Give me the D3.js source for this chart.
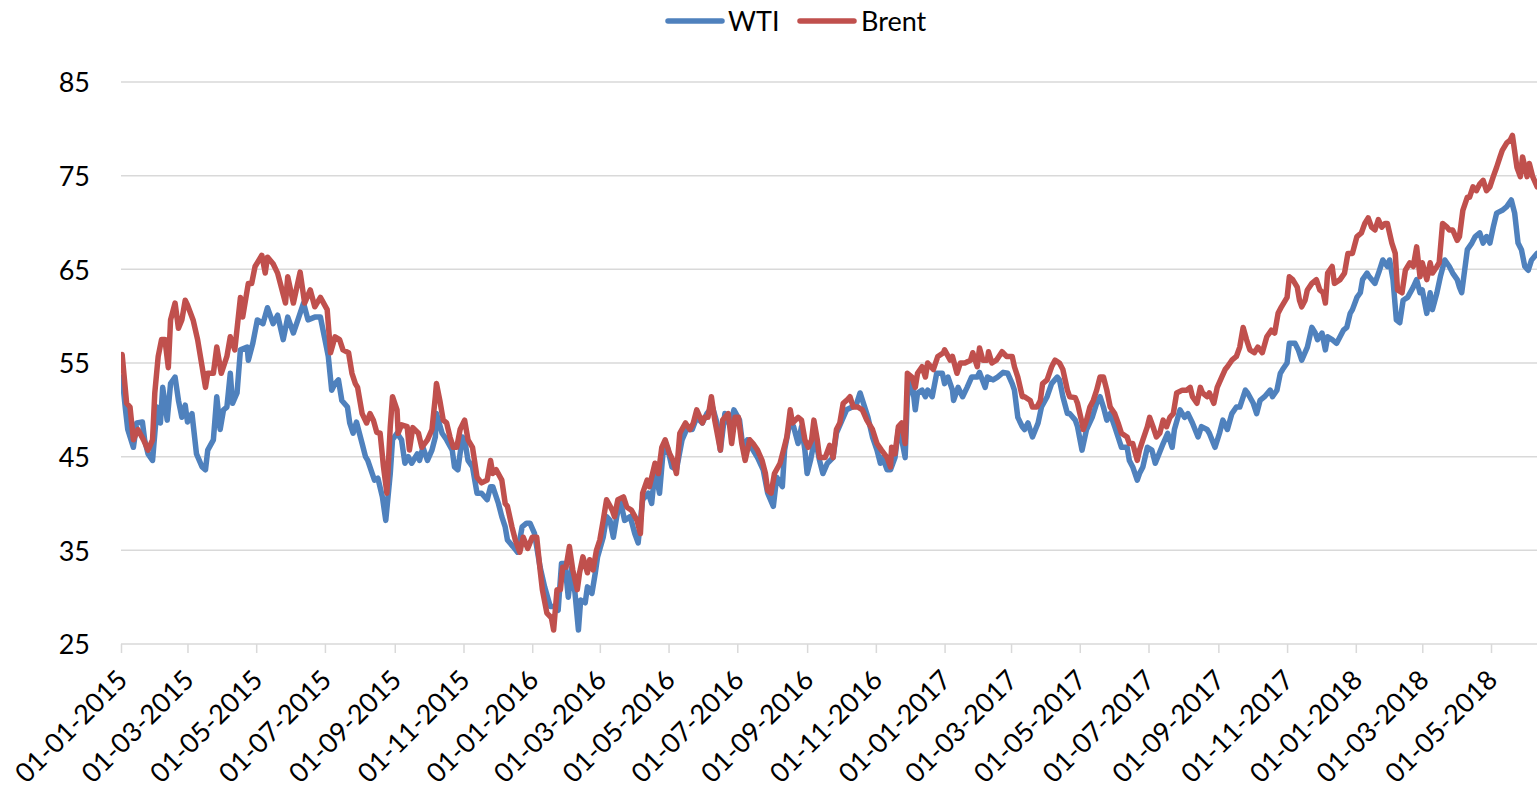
<!DOCTYPE html>
<html>
<head>
<meta charset="utf-8">
<script src="https://cdn.jsdelivr.net/npm/d3@7"></script>
<style>
    body { margin: 0; background: #fff; }
    svg text { font-family: Lato, "Open Sans", sans-serif; fill: #000; }
</style>
</head>
<body>
<svg id="chart" width="1537" height="792"></svg>
<script>
var seriesNames = ["WTI", "Brent"];

var yTicks = [25, 35, 45, 55, 65, 75, 85];

var axisStart = "2015-01-01",
    axisEnd = "2018-06-11";

var wti = [
    ["2015-01-02",53.5],["2015-01-05",50.0],["2015-01-07",47.9],["2015-01-12",46.0],["2015-01-15",48.6],["2015-01-20",48.7],["2015-01-22",46.8],["2015-01-25",45.3],["2015-01-29",44.6],
    ["2015-02-02",50.3],["2015-02-05",48.6],["2015-02-07",52.4],["2015-02-11",48.9],["2015-02-14",52.8],["2015-02-18",53.5],["2015-02-21",51.0],["2015-02-24",49.2],["2015-02-27",50.5],
    ["2015-03-01",48.7],["2015-03-05",49.6],["2015-03-09",45.3],["2015-03-14",43.9],["2015-03-17",43.6],["2015-03-19",45.7],["2015-03-24",46.8],["2015-03-27",51.4],["2015-03-30",47.9],
    ["2015-04-02",50.0],["2015-04-05",50.3],["2015-04-08",53.9],["2015-04-10",50.7],["2015-04-14",51.8],["2015-04-17",56.4],["2015-04-23",56.7],["2015-04-24",55.3],["2015-04-28",57.1],
    ["2015-05-02",59.6],["2015-05-07",59.2],["2015-05-11",60.9],["2015-05-16",59.2],["2015-05-20",60.1],["2015-05-25",57.5],["2015-05-29",59.9],
    ["2015-06-03",58.2],["2015-06-07",59.6],["2015-06-12",61.4],["2015-06-16",59.6],["2015-06-22",59.9],["2015-06-27",59.9],
    ["2015-07-01",57.5],["2015-07-04",55.7],["2015-07-07",52.1],["2015-07-10",52.8],["2015-07-13",53.2],["2015-07-16",51.0],["2015-07-21",50.3],["2015-07-23",48.6],["2015-07-26",47.5],["2015-07-29",48.7],
    ["2015-08-03",46.4],["2015-08-06",45.0],["2015-08-08",44.6],["2015-08-12",43.2],["2015-08-14",42.5],["2015-08-17",42.7],["2015-08-21",40.7],["2015-08-24",38.2],["2015-08-28",43.2],["2015-08-30",46.8],
    ["2015-09-03",47.5],["2015-09-07",46.8],["2015-09-10",44.3],["2015-09-13",45.0],["2015-09-16",44.3],["2015-09-21",45.3],["2015-09-23",44.6],["2015-09-26",46.0],["2015-09-30",44.6],
    ["2015-10-04",45.7],["2015-10-07",47.1],["2015-10-08",49.6],["2015-10-13",47.5],["2015-10-17",46.8],["2015-10-22",45.7],["2015-10-24",43.9],["2015-10-27",43.6],["2015-10-31",47.1],
    ["2015-11-02",46.8],["2015-11-05",44.6],["2015-11-09",43.9],["2015-11-13",41.1],["2015-11-17",41.1],["2015-11-22",40.4],["2015-11-25",41.8],["2015-11-27",41.8],
    ["2015-12-02",40.0],["2015-12-05",38.6],["2015-12-08",37.5],["2015-12-10",36.1],["2015-12-15",35.4],["2015-12-19",34.8],["2015-12-23",37.5],["2015-12-27",37.9],["2015-12-30",37.9],
    ["2016-01-03",36.8],["2016-01-08",33.2],["2016-01-12",31.1],["2016-01-17",29.0],["2016-01-21",29.0],["2016-01-24",28.6],["2016-01-27",33.6],["2016-01-30",33.6],
    ["2016-02-02",30.0],["2016-02-05",33.2],["2016-02-08",30.4],["2016-02-11",26.5],["2016-02-13",29.7],["2016-02-17",29.4],["2016-02-19",31.1],["2016-02-23",30.4],["2016-02-26",32.6],["2016-02-28",34.3],
    ["2016-03-04",36.4],["2016-03-07",38.6],["2016-03-10",38.2],["2016-03-13",36.4],["2016-03-16",38.6],["2016-03-19",40.4],["2016-03-23",38.2],["2016-03-28",38.6],
    ["2016-04-01",36.8],["2016-04-04",35.8],["2016-04-08",40.4],["2016-04-13",41.1],["2016-04-16",40.0],["2016-04-19",43.6],["2016-04-23",41.1],["2016-04-26",45.3],["2016-04-30",46.0],
    ["2016-05-04",43.9],["2016-05-08",43.6],["2016-05-13",46.8],["2016-05-17",47.9],["2016-05-22",47.9],["2016-05-26",49.2],["2016-05-31",48.6],
    ["2016-06-04",49.6],["2016-06-09",50.3],["2016-06-13",48.6],["2016-06-16",45.7],["2016-06-20",49.6],["2016-06-25",48.2],["2016-06-28",50.0],
    ["2016-07-03",48.9],["2016-07-06",46.0],["2016-07-10",46.8],["2016-07-15",45.7],["2016-07-19",44.9],["2016-07-24",43.6],["2016-07-28",41.1],
    ["2016-08-02",39.7],["2016-08-05",42.8],["2016-08-10",41.8],["2016-08-12",45.7],["2016-08-17",48.9],["2016-08-20",48.2],["2016-08-24",46.4],["2016-08-27",48.2],["2016-08-30",45.7],
    ["2016-09-01",43.2],["2016-09-04",44.6],["2016-09-08",47.1],["2016-09-12",44.6],["2016-09-15",43.2],["2016-09-19",44.3],["2016-09-24",44.9],["2016-09-27",47.5],
    ["2016-10-02",48.9],["2016-10-06",50.0],["2016-10-11",50.3],["2016-10-15",50.7],["2016-10-18",51.8],["2016-10-21",50.7],["2016-10-25",49.2],["2016-10-29",47.1],
    ["2016-11-02",45.7],["2016-11-05",44.3],["2016-11-07",44.9],["2016-11-11",43.6],["2016-11-14",43.6],["2016-11-18",44.9],["2016-11-21",47.9],["2016-11-24",46.8],["2016-11-27",44.9],["2016-11-29",51.4],
    ["2016-12-03",53.2],["2016-12-06",50.0],["2016-12-08",51.8],["2016-12-12",52.1],["2016-12-15",51.4],["2016-12-17",52.1],["2016-12-21",51.4],["2016-12-25",53.9],["2016-12-30",53.9],
    ["2017-01-01",52.8],["2017-01-04",53.5],["2017-01-08",52.1],["2017-01-09",51.0],["2017-01-13",52.4],["2017-01-17",51.4],["2017-01-21",52.4],["2017-01-25",53.5],["2017-01-30",53.5],
    ["2017-02-01",54.0],["2017-02-06",52.4],["2017-02-08",53.5],["2017-02-13",53.2],["2017-02-17",53.5],["2017-02-22",54.0],["2017-02-26",53.9],
    ["2017-03-02",52.8],["2017-03-04",52.1],["2017-03-07",49.2],["2017-03-11",48.2],["2017-03-13",47.9],["2017-03-16",48.6],["2017-03-20",47.1],["2017-03-25",48.6],["2017-03-28",50.3],
    ["2017-04-02",51.4],["2017-04-06",52.8],["2017-04-11",53.5],["2017-04-13",53.2],["2017-04-16",51.4],["2017-04-20",49.6],["2017-04-22",49.6],["2017-04-27",48.9],["2017-04-29",48.2],
    ["2017-05-03",45.7],["2017-05-07",47.9],["2017-05-12",49.2],["2017-05-16",50.7],["2017-05-19",51.4],["2017-05-22",50.3],["2017-05-25",48.9],["2017-05-28",49.6],
    ["2017-06-01",48.2],["2017-06-04",47.1],["2017-06-07",46.0],["2017-06-12",46.0],["2017-06-14",44.6],["2017-06-17",43.9],["2017-06-21",42.5],["2017-06-23",43.2],["2017-06-26",43.9],["2017-06-30",46.0],
    ["2017-07-04",45.7],["2017-07-07",44.3],["2017-07-11",45.5],["2017-07-14",46.4],["2017-07-18",47.5],["2017-07-22",46.0],["2017-07-24",47.9],["2017-07-29",50.0],
    ["2017-08-02",49.2],["2017-08-05",49.6],["2017-08-09",48.6],["2017-08-14",47.1],["2017-08-17",48.2],["2017-08-22",47.9],["2017-08-24",47.5],["2017-08-29",46.0],
    ["2017-09-02",47.5],["2017-09-05",48.9],["2017-09-09",47.9],["2017-09-13",49.6],["2017-09-17",50.3],["2017-09-20",50.3],["2017-09-25",52.1],["2017-09-27",51.8],
    ["2017-10-02",50.7],["2017-10-05",49.6],["2017-10-08",51.0],["2017-10-12",51.4],["2017-10-17",52.1],["2017-10-19",51.4],["2017-10-23",52.1],["2017-10-26",53.9],["2017-10-28",54.3],
    ["2017-11-01",55.0],["2017-11-03",57.1],["2017-11-08",57.1],["2017-11-11",56.4],["2017-11-14",55.3],["2017-11-19",56.7],["2017-11-23",58.8],["2017-11-26",58.2],["2017-11-28",57.5],
    ["2017-12-02",58.2],["2017-12-05",56.4],["2017-12-07",57.8],["2017-12-11",57.5],["2017-12-15",57.1],["2017-12-18",57.8],["2017-12-21",58.5],["2017-12-24",58.8],["2017-12-27",60.3],["2017-12-29",60.7],
    ["2018-01-02",62.0],["2018-01-05",62.5],["2018-01-07",63.9],["2018-01-11",64.6],["2018-01-13",64.2],["2018-01-18",63.5],["2018-01-22",64.9],["2018-01-25",66.0],["2018-01-29",65.3],["2018-01-31",66.0],
    ["2018-02-03",63.9],["2018-02-06",59.6],["2018-02-09",59.3],["2018-02-12",61.7],["2018-02-16",62.0],["2018-02-21",63.1],["2018-02-24",63.9],["2018-02-27",62.5],
    ["2018-03-01",62.8],["2018-03-05",60.3],["2018-03-08",62.5],["2018-03-10",60.7],["2018-03-14",62.5],["2018-03-17",64.2],["2018-03-21",66.0],["2018-03-25",65.3],["2018-03-28",64.6],
    ["2018-04-01",63.9],["2018-04-03",63.1],["2018-04-05",62.5],["2018-04-10",67.1],["2018-04-14",67.8],["2018-04-17",68.5],["2018-04-21",68.9],["2018-04-24",67.8],["2018-04-27",68.5],["2018-04-30",67.8],
    ["2018-05-03",69.5],["2018-05-06",71.0],["2018-05-11",71.3],["2018-05-15",71.7],["2018-05-19",72.4],["2018-05-22",71.0],["2018-05-25",67.8],["2018-05-28",67.1],["2018-05-31",65.3],
    ["2018-06-03",64.9],["2018-06-06",66.0],["2018-06-11",66.7]
];

var brent = [
    ["2015-01-02",55.9],["2015-01-06",50.7],["2015-01-09",50.3],["2015-01-12",46.8],["2015-01-16",47.9],["2015-01-21",46.8],["2015-01-25",45.7],["2015-01-29",46.8],["2015-01-31",51.8],
    ["2015-02-03",55.7],["2015-02-06",57.5],["2015-02-09",57.5],["2015-02-12",54.5],["2015-02-14",59.6],["2015-02-18",61.4],["2015-02-21",58.7],["2015-02-24",59.6],["2015-02-27",61.7],
    ["2015-03-01",61.2],["2015-03-06",59.6],["2015-03-10",57.5],["2015-03-14",54.6],["2015-03-17",52.4],["2015-03-19",53.9],["2015-03-24",53.9],["2015-03-27",56.7],["2015-03-31",53.9],
    ["2015-04-05",55.7],["2015-04-08",57.8],["2015-04-12",56.4],["2015-04-17",62.0],["2015-04-19",59.9],["2015-04-24",63.5],["2015-04-27",63.5],["2015-04-30",65.3],
    ["2015-05-06",66.5],["2015-05-09",64.6],["2015-05-11",66.3],["2015-05-16",65.6],["2015-05-20",64.6],["2015-05-27",61.4],["2015-05-29",64.2],
    ["2015-06-03",61.4],["2015-06-09",64.7],["2015-06-13",61.4],["2015-06-18",62.8],["2015-06-22",61.0],["2015-06-27",62.0],
    ["2015-07-03",60.7],["2015-07-06",56.1],["2015-07-10",57.8],["2015-07-14",57.5],["2015-07-17",56.4],["2015-07-22",56.1],["2015-07-25",53.9],["2015-07-28",52.8],["2015-07-30",52.4],
    ["2015-08-03",49.6],["2015-08-07",48.6],["2015-08-10",49.6],["2015-08-13",48.9],["2015-08-16",47.6],["2015-08-19",47.5],["2015-08-22",43.9],["2015-08-25",41.1],["2015-08-28",48.2],["2015-08-30",51.4],
    ["2015-09-03",50.0],["2015-09-04",47.5],["2015-09-07",48.4],["2015-09-12",48.2],["2015-09-14",45.7],["2015-09-17",48.1],["2015-09-22",47.5],["2015-09-25",46.0],["2015-09-30",46.8],
    ["2015-10-04",47.9],["2015-10-07",51.4],["2015-10-08",52.8],["2015-10-11",51.0],["2015-10-14",48.9],["2015-10-17",48.6],["2015-10-20",47.1],["2015-10-23",46.0],["2015-10-26",46.0],["2015-10-29",47.9],
    ["2015-11-02",48.9],["2015-11-05",46.8],["2015-11-09",46.0],["2015-11-13",42.8],["2015-11-17",42.2],["2015-11-22",42.5],["2015-11-25",44.6],["2015-11-27",43.2],["2015-11-30",43.6],
    ["2015-12-05",42.5],["2015-12-08",40.0],["2015-12-10",39.7],["2015-12-14",37.5],["2015-12-17",36.1],["2015-12-21",34.8],["2015-12-24",36.4],["2015-12-28",35.2],
    ["2016-01-01",36.4],["2016-01-05",36.4],["2016-01-08",32.9],["2016-01-10",30.8],["2016-01-14",28.3],["2016-01-18",27.8],["2016-01-20",26.5],["2016-01-23",30.8],["2016-01-26",30.8],["2016-01-28",33.2],["2016-01-31",33.2],
    ["2016-02-03",35.4],["2016-02-06",32.9],["2016-02-10",30.8],["2016-02-12",32.6],["2016-02-15",34.3],["2016-02-19",32.6],["2016-02-21",34.0],["2016-02-24",32.9],["2016-02-27",35.0],
    ["2016-03-01",36.1],["2016-03-04",38.2],["2016-03-07",40.4],["2016-03-12",39.3],["2016-03-14",38.6],["2016-03-17",40.4],["2016-03-22",40.7],["2016-03-25",39.6],["2016-03-29",39.3],
    ["2016-04-03",38.2],["2016-04-06",36.8],["2016-04-08",41.1],["2016-04-12",42.5],["2016-04-14",41.8],["2016-04-19",44.3],["2016-04-22",43.2],["2016-04-25",46.0],["2016-04-28",46.8],
    ["2016-05-02",45.3],["2016-05-05",44.6],["2016-05-08",43.2],["2016-05-11",47.5],["2016-05-16",48.6],["2016-05-20",47.9],["2016-05-23",48.6],["2016-05-26",50.0],["2016-05-31",48.6],
    ["2016-06-02",49.2],["2016-06-05",49.2],["2016-06-08",51.4],["2016-06-11",48.9],["2016-06-16",45.7],["2016-06-18",48.9],["2016-06-23",49.6],["2016-06-26",46.4],["2016-06-29",49.2],
    ["2016-07-02",49.2],["2016-07-05",46.4],["2016-07-08",44.6],["2016-07-12",46.8],["2016-07-15",46.4],["2016-07-19",45.7],["2016-07-23",44.6],["2016-07-26",43.2],["2016-07-28",41.4],["2016-07-31",41.1],
    ["2016-08-03",43.2],["2016-08-08",44.3],["2016-08-11",45.7],["2016-08-14",47.1],["2016-08-17",50.0],["2016-08-19",48.6],["2016-08-24",49.2],["2016-08-27",48.9],["2016-08-30",46.8],
    ["2016-09-02",46.0],["2016-09-05",46.8],["2016-09-07",48.9],["2016-09-10",46.8],["2016-09-12",44.9],["2016-09-17",44.9],["2016-09-21",46.2],["2016-09-24",44.9],["2016-09-27",47.9],["2016-09-30",48.6],
    ["2016-10-03",50.7],["2016-10-06",51.0],["2016-10-09",51.4],["2016-10-12",50.3],["2016-10-16",50.3],["2016-10-20",50.0],["2016-10-24",48.9],["2016-10-29",47.9],
    ["2016-11-02",46.4],["2016-11-06",45.7],["2016-11-11",44.9],["2016-11-14",43.9],["2016-11-15",46.0],["2016-11-18",45.3],["2016-11-21",48.2],["2016-11-24",48.6],["2016-11-27",46.4],["2016-11-29",53.9],
    ["2016-12-03",53.5],["2016-12-06",52.4],["2016-12-08",53.9],["2016-12-12",54.6],["2016-12-15",53.5],["2016-12-17",55.0],["2016-12-22",54.3],["2016-12-26",55.7],["2016-12-31",56.1],
    ["2017-01-01",56.4],["2017-01-06",55.3],["2017-01-08",55.7],["2017-01-12",53.9],["2017-01-15",55.0],["2017-01-19",55.0],["2017-01-24",55.3],["2017-01-26",56.1],["2017-01-30",54.6],
    ["2017-02-01",56.6],["2017-02-04",55.3],["2017-02-08",55.3],["2017-02-09",56.2],["2017-02-12",55.0],["2017-02-16",55.3],["2017-02-21",56.2],["2017-02-25",55.7],
    ["2017-03-02",55.7],["2017-03-04",54.6],["2017-03-07",53.5],["2017-03-11",51.4],["2017-03-13",51.4],["2017-03-18",51.0],["2017-03-20",50.3],["2017-03-24",50.3],["2017-03-27",51.0],["2017-03-29",52.8],
    ["2017-04-02",53.2],["2017-04-06",54.6],["2017-04-09",55.3],["2017-04-13",55.0],["2017-04-16",54.3],["2017-04-20",52.1],["2017-04-22",51.4],["2017-04-27",51.3],["2017-04-29",50.7],
    ["2017-05-03",48.6],["2017-05-04",47.9],["2017-05-07",48.9],["2017-05-10",50.3],["2017-05-13",51.0],["2017-05-16",52.1],["2017-05-19",53.5],["2017-05-22",53.5],["2017-05-25",52.1],["2017-05-28",50.3],
    ["2017-06-01",49.6],["2017-06-04",48.6],["2017-06-07",47.5],["2017-06-12",47.1],["2017-06-14",46.4],["2017-06-17",46.4],["2017-06-21",44.6],["2017-06-23",45.7],["2017-06-26",46.8],["2017-06-30",48.2],
    ["2017-07-02",49.2],["2017-07-05",48.2],["2017-07-08",47.1],["2017-07-11",47.5],["2017-07-14",48.9],["2017-07-17",48.2],["2017-07-20",49.2],["2017-07-23",49.6],["2017-07-26",51.8],["2017-07-31",52.1],
    ["2017-08-04",52.1],["2017-08-07",52.4],["2017-08-09",51.4],["2017-08-13",50.7],["2017-08-16",52.4],["2017-08-18",51.8],["2017-08-22",51.4],["2017-08-24",51.8],["2017-08-28",50.7],["2017-08-31",52.4],
    ["2017-09-04",53.5],["2017-09-07",54.3],["2017-09-09",54.6],["2017-09-13",55.3],["2017-09-17",55.7],["2017-09-20",56.7],["2017-09-23",58.8],["2017-09-26",57.5],["2017-09-29",56.4],
    ["2017-10-03",56.1],["2017-10-06",56.7],["2017-10-10",56.1],["2017-10-14",57.8],["2017-10-18",58.5],["2017-10-21",58.2],["2017-10-24",60.3],["2017-10-27",61.0],
    ["2017-11-01",62.0],["2017-11-03",64.2],["2017-11-06",63.9],["2017-11-10",63.1],["2017-11-12",61.7],["2017-11-14",61.0],["2017-11-17",61.7],["2017-11-19",62.8],["2017-11-23",63.5],["2017-11-27",63.9],["2017-11-30",62.8],
    ["2017-12-03",62.5],["2017-12-05",61.4],["2017-12-07",64.6],["2017-12-11",65.3],["2017-12-13",63.5],["2017-12-18",63.9],["2017-12-22",64.6],["2017-12-25",66.7],["2017-12-29",66.7],
    ["2018-01-02",68.5],["2018-01-06",68.9],["2018-01-09",69.9],["2018-01-12",70.5],["2018-01-15",69.5],["2018-01-18",69.2],["2018-01-21",70.3],["2018-01-24",69.5],["2018-01-27",69.9],["2018-01-29",69.9],
    ["2018-02-02",67.8],["2018-02-05",66.7],["2018-02-07",62.8],["2018-02-11",62.5],["2018-02-14",64.9],["2018-02-18",65.7],["2018-02-21",65.3],["2018-02-24",67.4],["2018-02-27",64.2],
    ["2018-03-01",65.7],["2018-03-05",63.9],["2018-03-08",65.7],["2018-03-10",64.6],["2018-03-14",65.3],["2018-03-16",65.7],["2018-03-19",69.9],["2018-03-23",69.5],["2018-03-25",69.2],["2018-03-28",69.2],
    ["2018-04-01",68.1],["2018-04-03",68.5],["2018-04-06",71.3],["2018-04-10",72.7],["2018-04-12",72.7],["2018-04-15",73.8],["2018-04-18",73.4],["2018-04-21",74.1],["2018-04-24",74.5],["2018-04-27",73.4],["2018-04-30",73.8],
    ["2018-05-03",74.9],["2018-05-06",75.9],["2018-05-09",77.0],["2018-05-11",77.7],["2018-05-15",78.5],["2018-05-18",78.8],["2018-05-20",79.3],["2018-05-24",75.9],["2018-05-27",74.9],["2018-05-29",77.0],
    ["2018-06-02",74.9],["2018-06-04",76.3],["2018-06-07",74.9],["2018-06-11",73.8]
];

(function(){
    var width = 1537,
        height = 792,
        left = 121,
        right = 1537.2,
        top = 82,
        bottom = 644,
        fontSize = "27px",
        colors = ["#4f81bd", "#c0504d"],
        parseDate = d3.utcParse("%Y-%m-%d"),
        formatDate = d3.utcFormat("%d-%m-%Y");

    var svg = d3.select("#chart");

    var x = d3.scaleUtc()
        .domain([parseDate(axisStart), parseDate(axisEnd)])
        .range([left, right]);

    var y = d3.scaleLinear()
        .domain([d3.min(yTicks), d3.max(yTicks)])
        .range([bottom, top]);

    svg.append("defs").append("clipPath")
        .attr("id", "plotClip")
        .append("rect")
        .attr("x", left)
        .attr("y", 0)
        .attr("width", width - left)
        .attr("height", height);

    // horizontal gridlines (the bottom one is drawn by the x axis)
    svg.append("g")
        .selectAll("line")
        .data(yTicks.slice(1))
        .enter()
        .append("line")
        .attr("x1", left)
        .attr("x2", width)
        .attr("y1", function(d){ return y(d); })
        .attr("y2", function(d){ return y(d); })
        .attr("stroke", "#d9d9d9")
        .attr("stroke-width", 1.5);

    var yAxis = d3.axisLeft(y)
        .tickValues(yTicks)
        .tickSize(0)
        .tickPadding(0);

    svg.append("g")
        .attr("transform", "translate(90,0)")
        .call(yAxis)
        .call(function(g){
            g.select(".domain").remove();
            g.selectAll("text")
                .attr("font-family", null)
                .style("font-size", fontSize)
                .attr("dy", "0.36em");
        });

    var tickDates = d3.utcMonth.every(2).range(parseDate(axisStart), parseDate(axisEnd));

    var xAxis = d3.axisBottom(x)
        .tickValues(tickDates)
        .tickFormat(formatDate)
        .tickSizeOuter(0)
        .tickSize(9);

    svg.append("g")
        .attr("transform", "translate(0," + bottom + ")")
        .call(xAxis)
        .call(function(g){
            g.select(".domain")
                .attr("d", "M" + left + ",0H" + width)
                .attr("stroke", "#d9d9d9")
                .attr("stroke-width", 1.5);
            g.selectAll(".tick line")
                .attr("stroke", "#d9d9d9")
                .attr("stroke-width", 1.5);
            g.selectAll("text")
                .attr("font-family", null)
                .style("font-size", fontSize)
                .attr("text-anchor", "end")
                .attr("x", 0)
                .attr("y", 0)
                .attr("dy", "0.35em")
                .attr("transform", "translate(1,31) rotate(-45)");
        });

    var line = d3.line()
        .x(function(d){ return x(parseDate(d[0])); })
        .y(function(d){ return y(d[1]); });

    svg.append("g")
        .attr("clip-path", "url(#plotClip)")
        .selectAll("path")
        .data([wti, brent])
        .enter()
        .append("path")
        .attr("fill", "none")
        .attr("stroke", function(d, i){ return colors[i]; })
        .attr("stroke-width", 5.5)
        .attr("stroke-linejoin", "round")
        .attr("stroke-linecap", "round")
        .attr("d", line);

    // legend
    var legendX = [668, 800],
        legendText = [728, 861];

    var legend = svg.append("g")
        .selectAll("g")
        .data(seriesNames)
        .enter()
        .append("g");

    legend.append("line")
        .attr("x1", function(d, i){ return legendX[i]; })
        .attr("x2", function(d, i){ return legendX[i] + 54; })
        .attr("y1", 21)
        .attr("y2", 21)
        .attr("stroke", function(d, i){ return colors[i]; })
        .attr("stroke-width", 5.5)
        .attr("stroke-linecap", "round");

    legend.append("text")
        .attr("x", function(d, i){ return legendText[i]; })
        .attr("y", 21)
        .attr("dy", "0.36em")
        .style("font-size", fontSize)
        .text(function(d){ return d; });
})();
</script>
</body>
</html>
